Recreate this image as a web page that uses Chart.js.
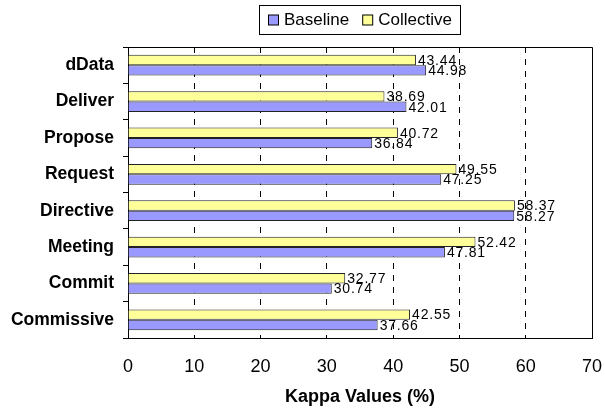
<!DOCTYPE html>
<html>
<head>
<meta charset="utf-8">
<script src="https://cdn.jsdelivr.net/npm/chart.js@4.4.0/dist/chart.umd.min.js"></script>
<style>
	html, body { margin: 0; padding: 0; background: #fff; }
	canvas { display: block; }
</style>
</head>
<body>
<canvas id="graph-canvas" width="605" height="409"></canvas>
<script>
// data
var categories = ['dData', 'Deliver', 'Propose', 'Request', 'Directive', 'Meeting', 'Commit', 'Commissive'];
var baseline = [44.98, 42.01, 36.84, 47.25, 58.27, 47.81, 30.74, 37.66];
var collective = [43.44, 38.69, 40.72, 49.55, 58.37, 52.42, 32.77, 42.55];
var xMin = 0, xMax = 70, xStep = 10;

var FONT = "'Liberation Sans', Arial, sans-serif";

// value labels at the end of each bar
var barLabels = {
	id: 'barLabels',
	afterDatasetsDraw: function(chart) {
		var ctx = chart.ctx;
		ctx.save();
		ctx.font = '14px ' + FONT;
		ctx.fillStyle = '#000';
		ctx.textBaseline = 'middle';
		ctx.textAlign = 'left';
		if ('letterSpacing' in ctx) ctx.letterSpacing = '0.8px';
		chart.data.datasets.forEach(function(ds, di) {
			chart.getDatasetMeta(di).data.forEach(function(bar, i) {
				ctx.fillText(ds.data[i].toFixed(2), bar.x + 2, bar.y + 1);
			});
		});
		ctx.restore();
	}
};

// top and right edge of the plot box
var frame = {
	id: 'frame',
	afterDraw: function(chart) {
		var a = chart.chartArea, ctx = chart.ctx;
		ctx.save();
		ctx.strokeStyle = '#000';
		ctx.lineWidth = 1;
		ctx.beginPath();
		ctx.moveTo(a.left, a.top + 0.5);
		ctx.lineTo(a.right + 0.5, a.top + 0.5);
		ctx.lineTo(a.right + 0.5, a.bottom);
		ctx.stroke();
		ctx.restore();
	}
};

// boxed legend over the plot: Baseline first, then Collective
var boxLegend = {
	id: 'boxLegend',
	afterDraw: function(chart) {
		var ctx = chart.ctx;
		var items = [chart.data.datasets[1], chart.data.datasets[0]];
		ctx.save();
		ctx.font = '17px ' + FONT;
		ctx.textBaseline = 'middle';
		ctx.lineWidth = 1;
		var bx = 259, by = 5, bw = 201, bh = 29;
		ctx.strokeStyle = '#000';
		ctx.strokeRect(bx + 0.5, by + 0.5, bw, bh);
		var x = bx + 9, cy = by + bh / 2 + 1;
		items.forEach(function(ds) {
			ctx.fillStyle = ds.backgroundColor;
			ctx.fillRect(x + 0.5, cy - 5.5, 10, 10);
			ctx.strokeStyle = '#000';
			ctx.strokeRect(x + 0.5, cy - 5.5, 10, 10);
			ctx.fillStyle = '#000';
			ctx.fillText(ds.label, x + 16, cy);
			x += 16 + ctx.measureText(ds.label).width + 13;
		});
		ctx.restore();
	}
};

var chartData = {
	labels: categories,
	datasets: [
		{
			label: 'Collective',
			backgroundColor: '#FFFF99',
			borderColor: '#222',
			borderWidth: 1,
			data: collective
		},
		{
			label: 'Baseline',
			backgroundColor: '#9999FF',
			borderColor: '#222',
			borderWidth: 1,
			data: baseline
		}
	]
};

var ctx = document.getElementById('graph-canvas');

var barGraph = new Chart(ctx, {
	type: 'bar',
	data: chartData,
	plugins: [barLabels, frame, boxLegend],
	options: {
		indexAxis: 'y',
		responsive: false,
		animation: false,
		devicePixelRatio: 1,
		layout: { padding: { top: 47, right: 13, left: 0, bottom: 0 } },
		datasets: { bar: { barPercentage: 1, categoryPercentage: 0.57 } },
		plugins: {
			legend: { display: false },
			tooltip: { enabled: false }
		},
		scales: {
			x: {
				min: xMin,
				max: xMax,
				afterFit: function(s) {
					s.height = 71;
					s.paddingLeft = 0;
					s.paddingRight = 0;
				},
				ticks: {
					stepSize: xStep,
					color: '#000',
					padding: 18,
					font: { family: FONT, size: 18 }
				},
				grid: {
					drawTicks: false,
					color: function(c) {
						var v = c.tick ? c.tick.value : null;
						return (v === xMin || v === xMax) ? 'rgba(0,0,0,0)' : '#000';
					}
				},
				border: { display: true, color: '#000', width: 1, dash: [6, 6] },
				title: {
					display: true,
					text: 'Kappa Values (%)',
					color: '#000',
					font: { family: FONT, size: 18, weight: 'bold' },
					padding: { top: 0, bottom: 1 }
				}
			},
			y: {
				afterFit: function(s) { s.width = 128; },
				ticks: {
					color: '#000',
					padding: 9,
					font: { family: FONT, size: 17.5, weight: 'bold' }
				},
				grid: {
					offset: true,
					drawOnChartArea: false,
					drawTicks: true,
					tickLength: 5,
					color: '#000'
				},
				border: { display: true, color: '#000', width: 1 }
			}
		}
	}
});
</script>
</body>
</html>
